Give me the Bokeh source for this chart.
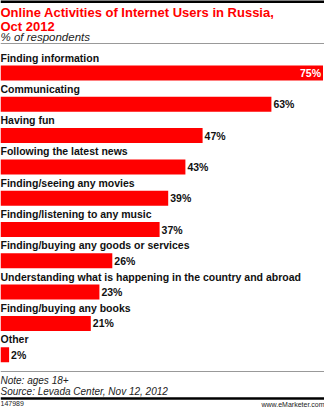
from bokeh.plotting import figure
from bokeh.models import Range1d, ColumnDataSource, Span, Label
from bokeh.core.properties import value
from bokeh.embed import file_html
from bokeh.resources import INLINE

categories = [
    "Finding information",
    "Communicating",
    "Having fun",
    "Following the latest news",
    "Finding/seeing any movies",
    "Finding/listening to any music",
    "Finding/buying any goods or services",
    "Understanding what is happening in the country and abroad",
    "Finding/buying any books",
    "Other",
]
values = [75, 63, 47, 43, 39, 37, 26, 23, 21, 2]
value_labels = [f"{v}%" for v in values]

W, H = 324, 407
PX_PER_PCT = 4.3
FIRST_BAR_CENTER = 72.5
BAR_STEP = 31.3
BAR_H = 15

p = figure(width=W, height=H, output_backend="svg", toolbar_location=None,
           x_range=Range1d(0, W / PX_PER_PCT), y_range=Range1d(H, 0),
           min_border=0, min_border_left=0, min_border_right=0,
           min_border_top=0, min_border_bottom=0)
p.axis.visible = False
p.grid.visible = False
p.outline_line_color = None
p.background_fill_color = "white"
p.border_fill_color = "white"

ys = [FIRST_BAR_CENTER + i * BAR_STEP for i in range(len(values))]
src = ColumnDataSource(dict(cat=categories, val=values, lab=value_labels, y=ys,
                            ly=[y - BAR_H / 2 - 2 for y in ys]))

p.hbar(y="y", right="val", left=0, height=BAR_H, source=src,
       fill_color="#ff0000", line_color=None)

font = value("Liberation Sans")
p.text(x=0, y="ly", text="cat", source=src, text_font=font, text_font_size="10.5px",
       text_font_style="bold", text_color="#111111", text_baseline="bottom", text_align="left")

inside = ColumnDataSource(dict(val=[values[0]], lab=[value_labels[0]], y=[ys[0]]))
outside = ColumnDataSource(dict(val=values[1:], lab=value_labels[1:], y=ys[1:]))
p.text(x="val", y="y", text="lab", source=inside, text_font=font, text_font_size="10.5px",
       text_font_style="bold", text_color="white", text_baseline="middle", text_align="right",
       x_offset=-2)
p.text(x="val", y="y", text="lab", source=outside, text_font=font, text_font_size="10.5px",
       text_font_style="bold", text_color="#111111", text_baseline="middle", text_align="left",
       x_offset=2)

# header
p.add_layout(Span(location=1, dimension="width", line_color="#000000", line_width=3))
p.add_layout(Span(location=43, dimension="width", line_color="#999999", line_width=1))
for txt, yy in [("Online Activities of Internet Users in Russia,", 4), ("Oct 2012", 18)]:
    p.add_layout(Label(x=0, y=yy, text=txt, text_font="Liberation Sans", text_font_size="13px",
                       text_font_style="bold", text_color="#ff0000", text_baseline="top"))
p.add_layout(Label(x=0, y=30, text="% of respondents", text_font="Liberation Sans",
                   text_font_size="11.5px", text_font_style="italic", text_color="#222222",
                   text_baseline="top"))

# footer
p.add_layout(Span(location=371, dimension="width", line_color="#999999", line_width=1))
p.add_layout(Label(x=0, y=374, text="Note: ages 18+", text_font="Liberation Sans",
                   text_font_size="10px", text_font_style="italic", text_color="#222222",
                   text_baseline="top"))
p.add_layout(Label(x=0, y=385, text="Source: Levada Center, Nov 12, 2012", text_font="Liberation Sans",
                   text_font_size="10px", text_font_style="italic", text_color="#222222",
                   text_baseline="top"))
p.add_layout(Span(location=398, dimension="width", line_color="#000000", line_width=2.5))
p.add_layout(Label(x=0, y=400, text="147989", text_font="Liberation Sans",
                   text_font_size="7px", text_color="#222222", text_baseline="top"))
p.add_layout(Label(x=W / PX_PER_PCT, y=400, text="www.eMarketer.com", text_font="Liberation Sans",
                   text_font_size="7px", text_color="#222222", text_baseline="top", text_align="right"))

open("out.html", "w").write(file_html(p, INLINE))
